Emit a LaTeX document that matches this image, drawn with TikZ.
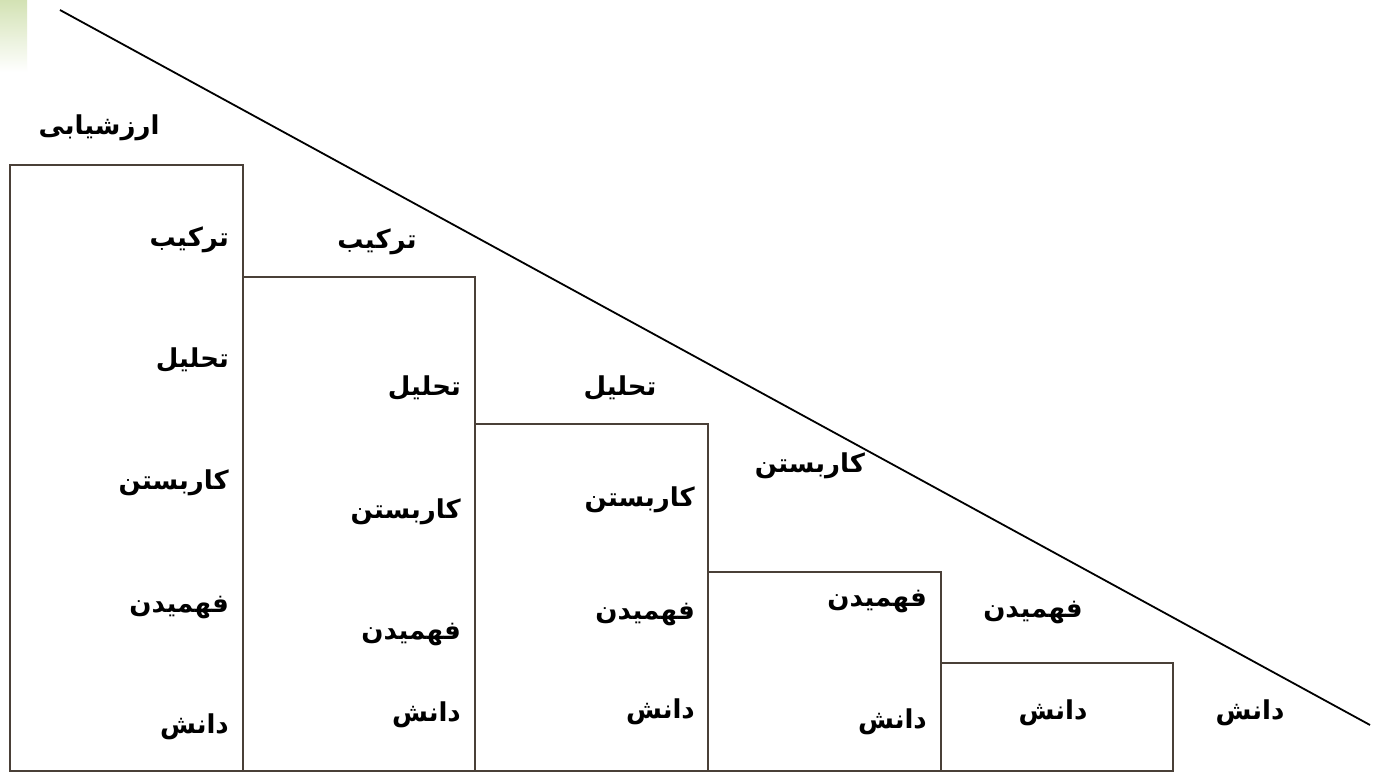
\documentclass[tikz,border=0pt]{standalone}
\usepackage{fontspec}
\newfontfamily\arabicfont[Script=Arabic]{DejaVu Sans}
\TeXXeTstate=1
\definecolor{frame}{HTML}{4A4038}
\definecolor{lightgreen}{HTML}{D3E2B4}
\newcommand{\fa}[1]{{\arabicfont\bfseries\beginR #1\endR}}
\tikzset{
  box/.style={draw=frame, line width=2pt},
  lbl/.style={font=\fontsize{26}{28}\selectfont, inner sep=0pt, text=black},
  rlbl/.style={lbl, anchor=east},
}
\begin{document}
\begin{tikzpicture}[x=1pt,y=-1pt]
\useasboundingbox (0,0) rectangle (1376,773);
\fill[white] (0,0) rectangle (1376,773);
\shade[top color=lightgreen, bottom color=white] (0,0) rectangle (27,72);
% boxes
\draw[box] (10,165) rectangle (243,771);
\draw[box] (243,277) rectangle (475,771);
\draw[box] (475,424) rectangle (708,771);
\draw[box] (708,572) rectangle (941,771);
\draw[box] (941,663) rectangle (1173,771);
% diagonal
\coordinate (d1) at (60,10);
\coordinate (d2) at (1370,725);
\draw[line width=1.8pt, black] (d1) -- (d2);
% column 1
\node[lbl] (a0) at (99,128) {\fa{ارزشیابی}};
\node[rlbl] (a1) at (229,240) {\fa{ترکیب}};
\node[rlbl] (a2) at (229,360) {\fa{تحلیل}};
\node[rlbl] (a3) at (229,483) {\fa{کاربستن}};
\node[rlbl] (a4) at (229,608) {\fa{فهمیدن}};
\node[rlbl] (a5) at (229,727) {\fa{دانش}};
% column 2
\node[lbl] (b0) at (377,242) {\fa{ترکیب}};
\node[rlbl] (b1) at (461,388) {\fa{تحلیل}};
\node[rlbl] (b2) at (461,512) {\fa{کاربستن}};
\node[rlbl] (b3) at (461,635) {\fa{فهمیدن}};
\node[rlbl] (b4) at (461,715) {\fa{دانش}};
% column 3
\node[lbl] (c0) at (620,388) {\fa{تحلیل}};
\node[rlbl] (c1) at (695,500) {\fa{کاربستن}};
\node[rlbl] (c2) at (695,615) {\fa{فهمیدن}};
\node[rlbl] (c3) at (695,712) {\fa{دانش}};
% column 4
\node[lbl] (e0) at (810,466) {\fa{کاربستن}};
\node[rlbl] (e1) at (927,602) {\fa{فهمیدن}};
\node[rlbl] (e2) at (927,722) {\fa{دانش}};
% column 5
\node[lbl] (f0) at (1033,613) {\fa{فهمیدن}};
\node[lbl] (f1) at (1053,713) {\fa{دانش}};
% outside
\node[lbl] (g0) at (1250,713) {\fa{دانش}};
\end{tikzpicture}
\end{document}
